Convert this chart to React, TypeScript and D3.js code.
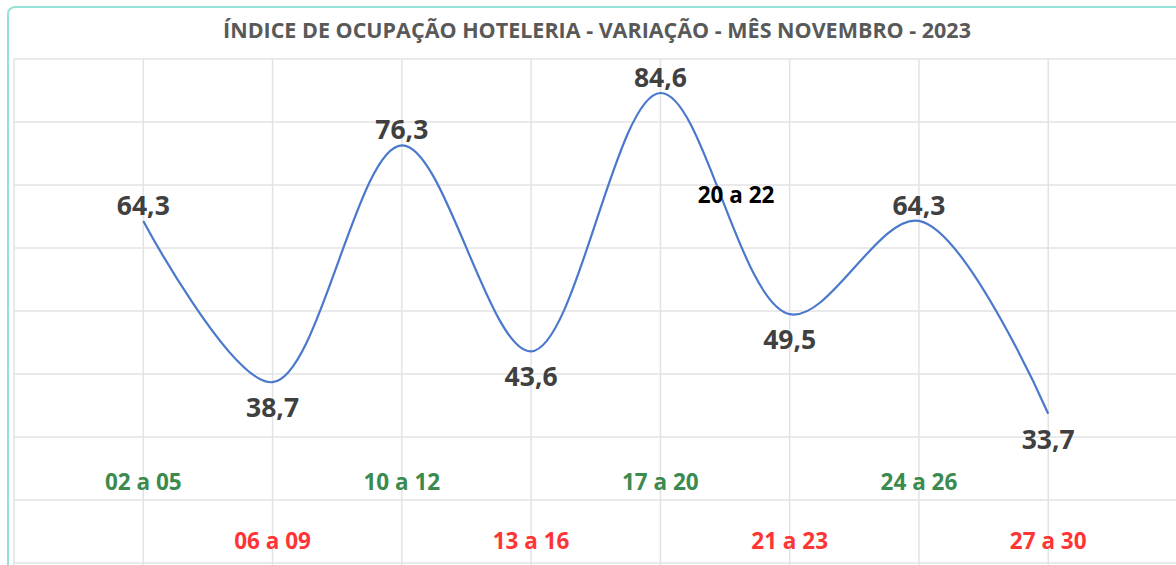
import * as d3 from "d3";

const PERIODS = ["02 a 05", "06 a 09", "10 a 12", "13 a 16", "17 a 20", "21 a 23", "24 a 26", "27 a 30"];
const OCCUPANCY = [64.3, 38.7, 76.3, 43.6, 84.6, 49.5, 64.3, 33.7];
const LABEL_SIDE = ["above", "below", "above", "below", "above", "below", "above", "below"];
const Y_TICKS = [10, 20, 30, 40, 50, 60, 70, 80, 90];
const TITLE = "ÍNDICE DE OCUPAÇÃO HOTELERIA - VARIAÇÃO - MÊS NOVEMBRO - 2023";
const NOTE = "20 a 22";

const W = 1176;
const H = 565;
const FONT = "'Open Sans', 'Noto Sans', sans-serif";

export default function App() {
  const x = d3.scaleLinear().domain([0, PERIODS.length + 1]).range([14, 1177.5]);
  const y = d3.scaleLinear().domain([10, 90]).range([563, 59]);

  const line = d3
    .line<number>()
    .x((_, i) => x(i + 1))
    .y((d) => y(d))
    .curve(d3.curveCatmullRom.alpha(0.5));

  const cols = d3.range(0, PERIODS.length + 2);

  return (
    <svg
      width={W}
      height={H}
      style={{ position: "absolute", left: 0, top: 0, background: "#fff" }}
      fontFamily={FONT}
    >
      {/* frame */}
      <rect x={8} y={7} width={W + 20} height={H + 20} rx={7} fill="#fff" stroke="#93e3d8" strokeWidth={2} />

      <text x={597} y={38} textAnchor="middle" fontSize={21.5} fontWeight={700} fill="#595959">
        {TITLE}
      </text>

      {/* grid */}
      <g stroke="#e3e3e3" strokeWidth={1.5}>
        {Y_TICKS.map((t) => (
          <line key={"h" + t} x1={14} x2={W} y1={y(t)} y2={y(t)} />
        ))}
        {cols.map((c) => (
          <line key={"v" + c} x1={x(c)} x2={x(c)} y1={y(90)} y2={H} />
        ))}
      </g>

      <path d={line(OCCUPANCY) ?? ""} fill="none" stroke="#4a78cc" strokeWidth={2.2} />

      {/* data labels */}
      {OCCUPANCY.map((v, i) => (
        <text
          key={"l" + i}
          x={x(i + 1)}
          y={y(v) + (LABEL_SIDE[i] === "above" ? -6 : 35)}
          textAnchor="middle"
          fontSize={26.5}
          fontWeight={700}
          fill="#404040"
        >
          {v.toFixed(1).replace(".", ",")}
        </text>
      ))}

      {/* period labels */}
      {PERIODS.map((p, i) => (
        <text
          key={"p" + i}
          x={x(i + 1)}
          y={i % 2 === 0 ? 490 : 549}
          textAnchor="middle"
          fontSize={22.5}
          fontWeight={700}
          fill={i % 2 === 0 ? "#3b8a4f" : "#ff3535"}
        >
          {p}
        </text>
      ))}

      <text x={736} y={203} textAnchor="middle" fontSize={22.5} fontWeight={700} fill="#000">
        {NOTE}
      </text>
    </svg>
  );
}
